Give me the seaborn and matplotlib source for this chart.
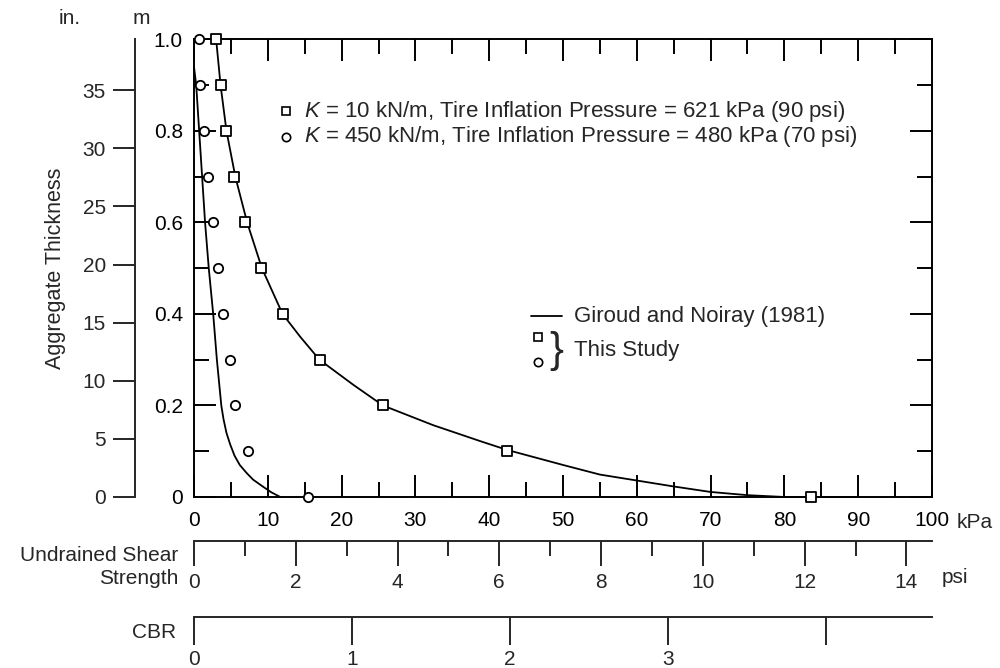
import matplotlib
matplotlib.use("Agg")
from matplotlib import pyplot as plt
from matplotlib.ticker import MultipleLocator, FixedLocator
import pandas as pd
import seaborn as sns

# Giroud and Noiray (1981) curves (kPa, m)
gn10_kpa = [3.0, 3.6, 4.4, 5.6, 7.2, 9.2, 12.0, 14.4, 17.0, 21.6, 25.6, 32.4, 38.8, 42.4, 50.0, 55.0, 60.0, 65.0, 70.0, 75.0, 80.0, 90.0]
gn10_m = [1.0, 0.9, 0.8, 0.7, 0.6, 0.5, 0.4, 0.35, 0.3, 0.245, 0.2, 0.157, 0.122, 0.103, 0.07, 0.049, 0.036, 0.023, 0.011, 0.004, 0.0, 0.0]
gn450_kpa = [0.0, 0.3, 0.7, 1.1, 1.5, 2.0, 2.6, 3.1, 3.7, 4.0, 4.4, 4.9, 5.5, 6.2, 7.1, 8.0, 9.4, 10.5, 11.7]
gn450_m = [0.94, 0.9, 0.8, 0.7, 0.6, 0.5, 0.4, 0.3, 0.2, 0.17, 0.14, 0.115, 0.09, 0.07, 0.053, 0.038, 0.022, 0.01, 0.0]

# this study
sq_kpa = [3.0, 3.6, 4.3, 5.4, 6.9, 9.1, 12.1, 17.1, 25.6, 42.4, 83.6]
sq_m = [1.0, 0.9, 0.8, 0.7, 0.6, 0.5, 0.4, 0.3, 0.2, 0.1, 0.0]
ci_kpa = [0.7, 0.8, 1.4, 1.9, 2.6, 3.3, 3.9, 4.9, 5.6, 7.3, 15.4]
ci_m = [1.0, 0.9, 0.8, 0.7, 0.6, 0.5, 0.4, 0.3, 0.2, 0.1, 0.0]

kpa_ticks = [0, 10, 20, 30, 40, 50, 60, 70, 80, 90, 100]
m_ticks = [0, 0.2, 0.4, 0.6, 0.8, 1.0]
m_labels = ["0", "0.2", "0.4", "0.6", "0.8", "1.0"]
in_ticks = [0, 5, 10, 15, 20, 25, 30, 35]
psi_ticks = [0, 2, 4, 6, 8, 10, 12, 14]
cbr_ticks = [0, 1, 2, 3, 4]
cbr_labels = ["0", "1", "2", "3", ""]

KPA_PER_PSI = 6.895
KPA_PER_CBR = 21.4
FS = 15

sns.set_style("ticks")
plt.rcParams["font.family"] = ["Liberation Sans", "DejaVu Sans"]
plt.rcParams["mathtext.fontset"] = "custom"
plt.rcParams["mathtext.it"] = "Liberation Sans:italic"
plt.rcParams["axes.linewidth"] = 1.4

fig = plt.figure(figsize=(10, 6.68), dpi=100)
ax = fig.add_axes([0.194, 0.256, 0.738, 0.685])

curves = pd.concat([
    pd.DataFrame({"kpa": gn10_kpa, "m": gn10_m, "set": "K10"}),
    pd.DataFrame({"kpa": gn450_kpa, "m": gn450_m, "set": "K450"}),
])
sns.lineplot(data=curves, x="kpa", y="m", units="set", estimator=None, sort=False,
             color="black", lw=1.3, ax=ax, legend=False, clip_on=False)

sns.scatterplot(x=sq_kpa, y=sq_m, marker="s", s=55, facecolor="white", edgecolor="black",
                linewidth=1.3, ax=ax, zorder=5, clip_on=False)
sns.scatterplot(x=ci_kpa, y=ci_m, marker="o", s=45, facecolor="white", edgecolor="black",
                linewidth=1.3, ax=ax, zorder=5, clip_on=False)

ax.set_xlim(0, 100)
ax.set_ylim(0, 1.0)
ax.set_xlabel("")
ax.set_ylabel("")
ax.xaxis.set_major_locator(FixedLocator(kpa_ticks))
ax.xaxis.set_minor_locator(MultipleLocator(5))
ax.yaxis.set_major_locator(FixedLocator(m_ticks))
ax.yaxis.set_minor_locator(MultipleLocator(0.1))
ax.set_yticklabels(m_labels)
ax.tick_params(which="both", direction="in", top=True, right=True, width=1.4,
               labelsize=FS, colors="black")
ax.tick_params(which="major", length=16)
ax.tick_params(which="minor", length=11)
ax.tick_params(axis="x", pad=10)
ax.tick_params(axis="y", pad=8)
for sp in ax.spines.values():
    sp.set_color("black")

# inch axis
ax_in = ax.secondary_yaxis(-0.08, functions=(lambda m: m / 0.0254, lambda i: i * 0.0254))
ax_in.yaxis.set_major_locator(FixedLocator(in_ticks))
ax_in.tick_params(direction="out", length=16, width=1.4, labelsize=FS, pad=5)
ax_in.spines["left"].set_linewidth(1.4)
ax_in.set_ylabel("Aggregate Thickness", fontsize=FS + 0.5, labelpad=12)

# psi axis
ax_psi = ax.secondary_xaxis(-0.096, functions=(lambda k: k / KPA_PER_PSI, lambda p: p * KPA_PER_PSI))
ax_psi.xaxis.set_major_locator(FixedLocator(psi_ticks))
ax_psi.xaxis.set_minor_locator(MultipleLocator(1))
ax_psi.tick_params(which="both", direction="out", width=1.4, labelsize=FS, pad=5)
ax_psi.tick_params(which="major", length=18)
ax_psi.tick_params(which="minor", length=11)
ax_psi.spines["bottom"].set_linewidth(1.4)

# CBR axis
ax_cbr = ax.secondary_xaxis(-0.262, functions=(lambda k: k / KPA_PER_CBR, lambda c: c * KPA_PER_CBR))
ax_cbr.xaxis.set_major_locator(FixedLocator(cbr_ticks))
ax_cbr.set_xticklabels(cbr_labels)
ax_cbr.tick_params(direction="out", length=20, width=1.4, labelsize=FS, pad=4)
ax_cbr.spines["bottom"].set_linewidth(1.4)

# unit / axis labels
fig.text(0.07, 0.972, "in.", fontsize=FS, ha="center", va="center")
fig.text(0.141, 0.973, "m", fontsize=FS, ha="center", va="center")
ax.text(103.4, -0.035, "kPa", fontsize=FS, ha="left", va="top")
fig.text(0.955, 0.135, "psi", fontsize=FS, ha="center", va="center")
fig.text(0.178, 0.168, "Undrained Shear", fontsize=FS, ha="right", va="center")
fig.text(0.178, 0.134, "Strength", fontsize=FS, ha="right", va="center")
fig.text(0.176, 0.053, "CBR", fontsize=FS, ha="right", va="center")

# legend texts
ax.plot([12.4], [0.843], marker="s", ms=6, mfc="white", mec="black", mew=1.2, ls="none")
ax.text(14.9, 0.843, r"$K$ = 10 kN/m, Tire Inflation Pressure = 621 kPa (90 psi)",
        fontsize=16, va="center")
ax.plot([12.4], [0.787], marker="o", ms=6, mfc="white", mec="black", mew=1.2, ls="none")
ax.text(14.9, 0.787, r"$K$ = 450 kN/m, Tire Inflation Pressure = 480 kPa (70 psi)",
        fontsize=16, va="center")

ax.plot([45.7, 49.8], [0.395, 0.395], color="black", lw=1.3)
ax.text(51.5, 0.395, "Giroud and Noiray (1981)", fontsize=16, va="center")
ax.plot([46.6], [0.349], marker="s", ms=6, mfc="white", mec="black", mew=1.2, ls="none")
ax.plot([46.6], [0.295], marker="o", ms=6, mfc="white", mec="black", mew=1.2, ls="none")
ax.text(48.2, 0.318, "}", fontsize=30, va="center", ha="left")
ax.text(51.5, 0.32, "This Study", fontsize=16, va="center")

fig.savefig("out.png", dpi=100)
